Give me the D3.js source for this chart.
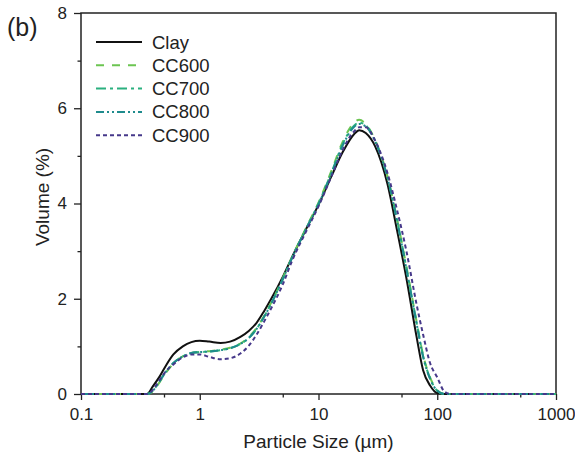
<!DOCTYPE html>
<html>
<head>
    <meta charset="utf-8" />
    <title>Particle size distribution</title>
    <script src="https://d3js.org/d3.v7.min.js"></script>
    <style>
        body { margin: 0; background: #fff; }
        text { font-family: Arial, "Liberation Sans", sans-serif; fill: #222; }
    </style>
</head>
<body>
<svg id="chart" width="575" height="456"></svg>
<script>
    // particle size grid (µm)
    let sizes = [0.1, 0.3, 0.36, 0.4, 0.46, 0.52, 0.6, 0.72, 0.85, 1, 1.2, 1.5, 1.8, 2.2, 2.6, 3, 3.5, 4, 5, 6, 8, 10, 13, 16, 20, 22, 25, 30, 38, 46, 55, 67, 76, 87, 100, 115, 130, 200, 1000];

    let clay  = [0, 0, 0, 0.15, 0.37, 0.6, 0.83, 1.0, 1.09, 1.12, 1.1, 1.07, 1.1, 1.2, 1.33, 1.49, 1.75, 2.0, 2.46, 2.88, 3.5, 3.97, 4.6, 5.08, 5.46, 5.54, 5.48, 5.2, 4.42, 3.42, 2.43, 1.2, 0.5, 0.18, 0.02, 0, 0, 0, 0];
    let cc600 = [0, 0, 0, 0.05, 0.25, 0.45, 0.64, 0.79, 0.86, 0.88, 0.9, 0.93, 0.97, 1.06, 1.2, 1.38, 1.65, 1.92, 2.43, 2.88, 3.53, 4.02, 4.72, 5.3, 5.7, 5.76, 5.67, 5.33, 4.58, 3.66, 2.68, 1.52, 0.82, 0.35, 0.08, 0, 0, 0, 0];
    let cc700 = [0, 0, 0, 0.06, 0.27, 0.47, 0.65, 0.79, 0.86, 0.88, 0.89, 0.92, 0.96, 1.05, 1.18, 1.36, 1.63, 1.9, 2.41, 2.87, 3.51, 4.0, 4.68, 5.25, 5.64, 5.7, 5.64, 5.32, 4.56, 3.64, 2.64, 1.5, 0.8, 0.33, 0.07, 0, 0, 0, 0];
    let cc800 = [0, 0, 0, 0.06, 0.27, 0.47, 0.65, 0.79, 0.86, 0.88, 0.89, 0.92, 0.96, 1.05, 1.18, 1.36, 1.63, 1.9, 2.41, 2.86, 3.5, 3.98, 4.66, 5.22, 5.61, 5.67, 5.62, 5.3, 4.55, 3.62, 2.62, 1.48, 0.78, 0.32, 0.07, 0, 0, 0, 0];
    let cc900 = [0, 0, 0, 0.08, 0.3, 0.48, 0.62, 0.77, 0.83, 0.83, 0.78, 0.73, 0.75, 0.85, 1.02, 1.24, 1.53, 1.8, 2.3, 2.8, 3.45, 3.94, 4.6, 5.13, 5.52, 5.6, 5.6, 5.32, 4.65, 3.85, 3.0, 1.88, 1.25, 0.65, 0.35, 0.05, 0, 0, 0];

    let names = ['Clay', 'CC600', 'CC700', 'CC800', 'CC900'];
    let seriesValues = [clay, cc600, cc700, cc800, cc900];
    let colors = ['#111111', '#6cc552', '#2bb07f', '#1f8b8d', '#46388a'];
    let dashes = [null, '8,8', '10,4,3,4', '8,3,2,3,2,3', '4,3'];

    let xTicks = [0.1, 1, 10, 100, 1000];
    let xMinor = [0.5, 5, 50, 500];
    let yTicks = [0, 2, 4, 6, 8];
    let yMinor = [1, 3, 5, 7];

    let margin = { left: 81, right: 19, top: 13, bottom: 62 };
    let width = 575, height = 456;

    let svg = d3.select('#chart');

    let x = d3.scaleLog().domain([0.1, 1000]).range([margin.left, width - margin.right]);
    let y = d3.scaleLinear().domain([0, 8]).range([height - margin.bottom, margin.top]);

    // frame
    svg.append('rect')
        .attr('x', x(0.1)).attr('y', y(8))
        .attr('width', x(1000) - x(0.1)).attr('height', y(0) - y(8))
        .attr('fill', 'none').attr('stroke', '#222').attr('stroke-width', 1.5);

    // x axis
    let gx = svg.append('g').attr('transform', 'translate(0,' + y(0) + ')');
    gx.call(d3.axisBottom(x).tickValues(xTicks).tickFormat(d3.format('')).tickSize(6).tickSizeOuter(0));
    gx.append('g').call(d3.axisBottom(x).tickValues(xMinor).tickFormat('').tickSize(3.5).tickSizeOuter(0));
    gx.selectAll('.domain').remove();
    gx.selectAll('line').attr('stroke', '#222').attr('stroke-width', 1.3);
    gx.selectAll('text').attr('font-size', 17).attr('y', 14).style('font-family', 'Arial, "Liberation Sans", sans-serif').attr('fill', '#222');

    // y axis
    let gy = svg.append('g').attr('transform', 'translate(' + x(0.1) + ',0)');
    gy.call(d3.axisLeft(y).tickValues(yTicks).tickFormat(d3.format('d')).tickSize(7).tickSizeOuter(0));
    gy.append('g').call(d3.axisLeft(y).tickValues(yMinor).tickFormat('').tickSize(3.5).tickSizeOuter(0));
    gy.selectAll('.domain').remove();
    gy.selectAll('line').attr('stroke', '#222').attr('stroke-width', 1.3);
    gy.selectAll('text').attr('font-size', 17).attr('x', -14).style('font-family', 'Arial, "Liberation Sans", sans-serif').attr('fill', '#222');

    // axis titles
    svg.append('text')
        .attr('x', (x(0.1) + x(1000)) / 2).attr('y', 448)
        .attr('text-anchor', 'middle').attr('font-size', 19)
        .text('Particle Size (µm)');

    svg.append('text')
        .attr('transform', 'translate(49,197) rotate(-90)')
        .attr('text-anchor', 'middle').attr('font-size', 19)
        .text('Volume (%)');

    svg.append('text')
        .attr('x', 7).attr('y', 36).attr('font-size', 25)
        .text('(b)');

    // curves
    let line = d3.line()
        .x(function (d) { return x(d[0]); })
        .y(function (d) { return y(d[1]); })
        .curve(d3.curveMonotoneX);

    seriesValues.forEach(function (vals, i) {
        let pts = sizes.map(function (s, j) { return [s, vals[j]]; });
        svg.append('path')
            .datum(pts)
            .attr('d', line)
            .attr('fill', 'none')
            .attr('stroke', colors[i])
            .attr('stroke-width', 2)
            .attr('stroke-dasharray', dashes[i]);
    });

    // legend
    let legend = svg.append('g');
    names.forEach(function (n, i) {
        let ly = 42 + i * 23.3;
        legend.append('line')
            .attr('x1', 96).attr('x2', 142).attr('y1', ly).attr('y2', ly)
            .attr('stroke', colors[i]).attr('stroke-width', 2)
            .attr('stroke-dasharray', dashes[i]);
        legend.append('text')
            .attr('x', 152).attr('y', ly + 6.5).attr('font-size', 18.5)
            .text(n);
    });
</script>
</body>
</html>
